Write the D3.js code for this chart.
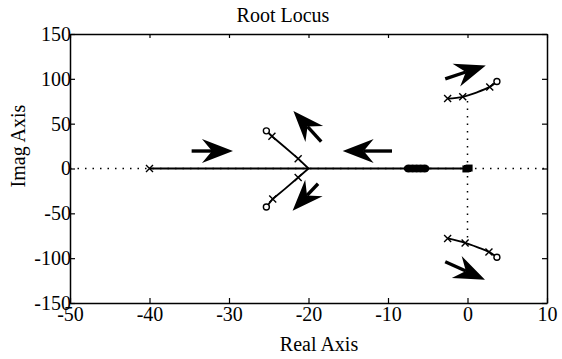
<!DOCTYPE html>
<html>
<head>
<meta charset="utf-8">
<script src="https://cdn.jsdelivr.net/npm/d3@7"></script>
<style>
  body { margin: 0; background: #fff; }
  svg text { font-family: "Liberation Serif", "DejaVu Serif", serif; fill: #000; }
</style>
</head>
<body>
<div id="chart"></div>
<script>
const margin = {top: 34, right: 15, bottom: 56, left: 70},
      svgWidth = 562,
      svgHeight = 359,
      width = svgWidth - margin.left - margin.right,
      height = svgHeight - margin.top - margin.bottom;

// tick values
const xTicks = [-50, -40, -30, -20, -10, 0, 10];
const yTicks = [-150, -100, -50, 0, 50, 100, 150];

// locus branches (real, imag)
const realLocus = [[-40, 0], [-20, 0], [0, 0]];
const upperLeftBranch = [[-20, 0], [-21.3, 11], [-23, 24], [-24.6, 36], [-25.3, 42]];
const lowerLeftBranch = [[-20, 0], [-21.3, -10], [-23, -23], [-24.5, -34], [-25.3, -43]];
const upperRightBranch = [[-2.5, 78], [-0.6, 80], [1.2, 85], [2.8, 91], [3.7, 97]];
const lowerRightBranch = [[-2.5, -78], [-0.3, -83], [1.3, -88], [2.7, -93], [3.7, -99]];

// markers
const poles = [[-40, 0], [-2.5, 78], [-0.6, 80], [2.8, 91], [-2.5, -78], [-0.3, -83], [2.7, -93],
               [-24.6, 36], [-21.3, 11], [-24.5, -34], [-21.3, -10]];
const zeros = [[-25.3, 42], [-25.3, -43], [3.7, 97], [3.7, -99]];
const clusterReal = [-7.4, -6.9, -6.4, -5.9, -5.4];
const originMarks = [[0, 0], [0.2, 0.5], [-0.2, -0.5]];

// dotted axes
const realAxisDotted = [-50, 10];
const imagAxisDotted = [-77, 76];

// direction arrows: tail -> tip
const arrowTails = [[-34.7, 19.5], [-18.4, 30], [-9.5, 19.5], [-18.8, -17], [-2.8, 100], [-2.8, -104]];
const arrowTips  = [[-29.5, 19.5], [-21.9, 64], [-15.7, 19.5], [-22, -47], [2.3, 115], [2.2, -124]];

const svg = d3.select('#chart')
    .append('svg')
    .attr('width', svgWidth)
    .attr('height', svgHeight)
    .style('background', '#fff');

const g = svg.append('g')
    .attr('transform', `translate(${margin.left}, ${margin.top})`);

const x = d3.scaleLinear().domain([-50, 10]).range([0, width]);
const y = d3.scaleLinear().domain([-150, 150]).range([height, 0]);

const serif = '"Liberation Serif", "DejaVu Serif", serif';

// axes (ticks pointing inward)
g.append('g')
    .attr('transform', `translate(0, ${height})`)
    .call(d3.axisBottom(x).tickValues(xTicks).tickFormat(d => String(d))
        .tickSizeInner(-5).tickSizeOuter(0).tickPadding(4))
    .call(a => a.selectAll('text').style('font-family', serif).style('font-size', '20px'));

g.append('g')
    .call(d3.axisLeft(y).tickValues(yTicks).tickFormat(d => String(d))
        .tickSizeInner(-5).tickSizeOuter(0).tickPadding(-1))
    .call(a => a.selectAll('text').style('font-family', serif).style('font-size', '20px'));

g.append('g')
    .call(d3.axisTop(x).tickValues(xTicks).tickFormat('').tickSizeInner(-4).tickSizeOuter(0));

g.append('g')
    .attr('transform', `translate(${width}, 0)`)
    .call(d3.axisRight(y).tickValues(yTicks).tickFormat('').tickSizeInner(-5).tickSizeOuter(0));

g.selectAll('.domain').attr('stroke', '#000').attr('stroke-width', 1.5);
g.selectAll('.tick line').attr('stroke', '#000').attr('stroke-width', 1.2);

// dotted axes lines
g.append('line')
    .attr('x1', x(realAxisDotted[0])).attr('x2', x(realAxisDotted[1]))
    .attr('y1', y(0)).attr('y2', y(0))
    .attr('stroke', '#000').attr('stroke-width', 1.5)
    .attr('stroke-dasharray', '1.5,6');

g.append('line')
    .attr('x1', x(0)).attr('x2', x(0))
    .attr('y1', y(imagAxisDotted[0])).attr('y2', y(imagAxisDotted[1]))
    .attr('stroke', '#000').attr('stroke-width', 1.5)
    .attr('stroke-dasharray', '1.5,6');

// locus lines
const line = d3.line().x(d => x(d[0])).y(d => y(d[1]));
const curve = d3.line().x(d => x(d[0])).y(d => y(d[1])).curve(d3.curveCatmullRom);

g.append('path').datum(realLocus)
    .attr('fill', 'none').attr('stroke', '#000').attr('stroke-width', 2.2).attr('d', line);

[upperLeftBranch, lowerLeftBranch].forEach(b => {
    g.append('path').datum(b)
        .attr('fill', 'none').attr('stroke', '#000').attr('stroke-width', 1.8).attr('d', line);
});

[upperRightBranch, lowerRightBranch].forEach(b => {
    g.append('path').datum(b)
        .attr('fill', 'none').attr('stroke', '#000').attr('stroke-width', 1.8).attr('d', curve);
});

// pole crosses
const cs = 3.5;
g.selectAll('.pole')
    .data(poles)
    .enter()
    .append('path')
    .attr('class', 'pole')
    .attr('d', d => {
        const px = x(d[0]), py = y(d[1]);
        return `M${px - cs},${py - cs}L${px + cs},${py + cs}M${px - cs},${py + cs}L${px + cs},${py - cs}`;
    })
    .attr('stroke', '#000').attr('stroke-width', 1.4).attr('fill', 'none');

// zero circles
g.selectAll('.zero')
    .data(zeros)
    .enter()
    .append('circle')
    .attr('class', 'zero')
    .attr('cx', d => x(d[0])).attr('cy', d => y(d[1]))
    .attr('r', 3)
    .attr('fill', '#fff').attr('stroke', '#000').attr('stroke-width', 1.4);

// cluster of poles/zeros near -6 (drawn as one thick blob)
g.selectAll('.cluster')
    .data(clusterReal)
    .enter()
    .append('ellipse')
    .attr('class', 'cluster')
    .attr('cx', d => x(d)).attr('cy', y(0))
    .attr('rx', 5).attr('ry', 4)
    .attr('fill', '#000');

// marks at the origin
g.selectAll('.origin')
    .data(originMarks)
    .enter()
    .append('rect')
    .attr('class', 'origin')
    .attr('x', d => x(d[0]) - 3.5).attr('y', d => y(d[1]) - 3.5)
    .attr('width', 7).attr('height', 7)
    .attr('fill', '#000');

// arrows
const arrows = arrowTails.map((t, i) => ({tail: t, tip: arrowTips[i]}));
const headLen = 31, headHalf = 12, notch = 10;

arrows.forEach(a => {
    const x0 = x(a.tail[0]), y0 = y(a.tail[1]);
    const x1 = x(a.tip[0]), y1 = y(a.tip[1]);
    const len = Math.hypot(x1 - x0, y1 - y0);
    const ux = (x1 - x0) / len, uy = (y1 - y0) / len;
    const nx = -uy, ny = ux;
    const bx = x1 - ux * headLen, by = y1 - uy * headLen;
    const mx = x1 - ux * (headLen - notch), my = y1 - uy * (headLen - notch);

    g.append('line')
        .attr('x1', x0).attr('y1', y0).attr('x2', mx).attr('y2', my)
        .attr('stroke', '#000').attr('stroke-width', 3.4);

    g.append('path')
        .attr('d', `M${x1},${y1}L${bx + nx * headHalf},${by + ny * headHalf}L${mx},${my}L${bx - nx * headHalf},${by - ny * headHalf}Z`)
        .attr('fill', '#000');
});

// labels
svg.append('text')
    .attr('x', 283).attr('y', 22)
    .attr('text-anchor', 'middle')
    .style('font-size', '20px')
    .text('Root Locus');

svg.append('text')
    .attr('x', 319).attr('y', 351)
    .attr('text-anchor', 'middle')
    .style('font-size', '20px')
    .text('Real Axis');

svg.append('text')
    .attr('transform', 'translate(25, 146) rotate(-90)')
    .attr('text-anchor', 'middle')
    .style('font-size', '20px')
    .text('Imag Axis');
</script>
</body>
</html>
